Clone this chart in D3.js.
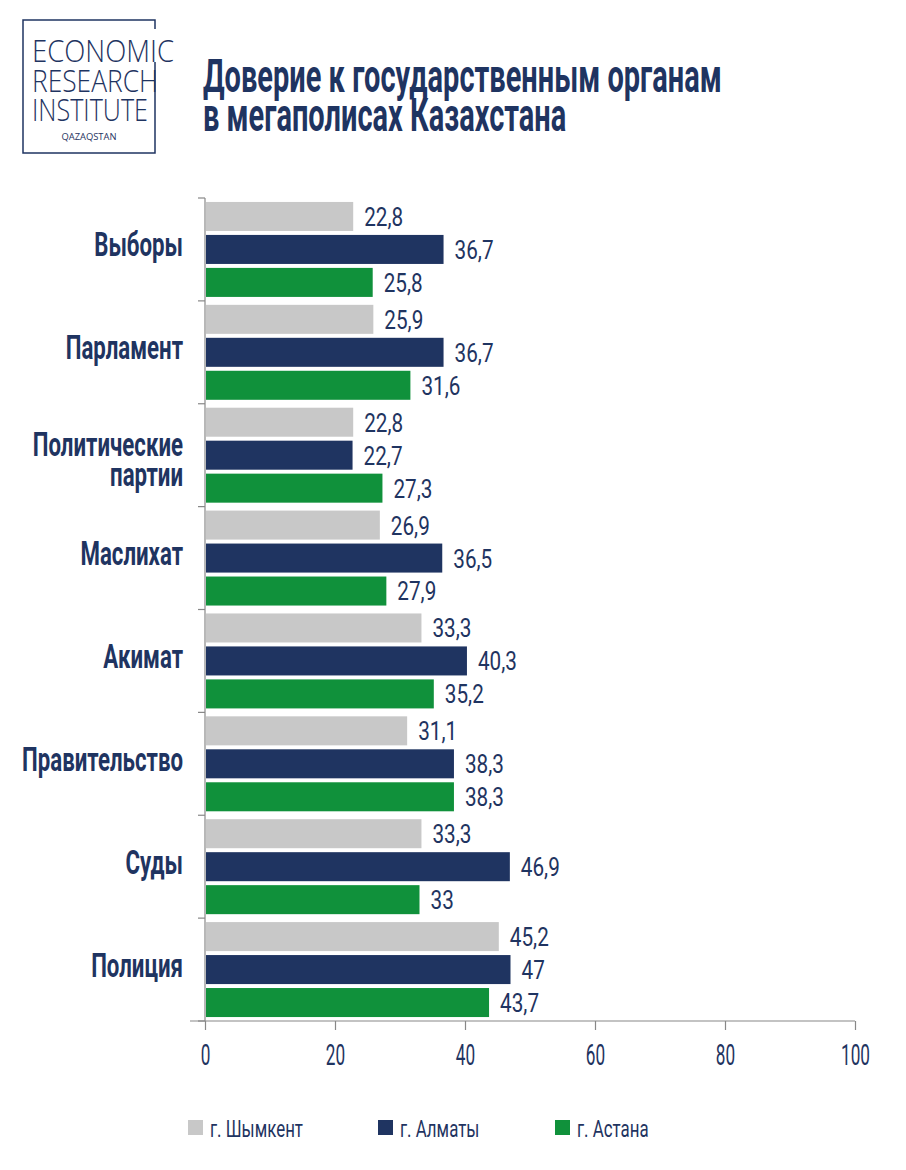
<!DOCTYPE html>
<html><head><meta charset="utf-8">
<script src="https://cdn.jsdelivr.net/npm/d3@7"></script>
<style>
html,body{margin:0;padding:0;background:#fff;}
svg text{font-family:Roboto,"Noto Sans",sans-serif;}
</style></head>
<body><svg id="c" width="906" height="1170"></svg>
<script>
const categories = ["Выборы","Парламент","Политические партии","Маслихат","Акимат","Правительство","Суды","Полиция"];
const seriesNames = ["г. Шымкент","г. Алматы","г. Астана"];
const shymkent = [22.8,25.9,22.8,26.9,33.3,31.1,33.3,45.2];
const almaty   = [36.7,36.7,22.7,36.5,40.3,38.3,46.9,47];
const astana   = [25.8,31.6,27.3,27.9,35.2,38.3,33,43.7];
const xTicks = [0,20,40,60,80,100];
const titleLines = ["Доверие к государственным органам","в мегаполисах Казахстана"];
const colors = ["#c8c8c8","#1f3461","#10913b"];
const navy = "#1f3461";

const svg = d3.select("#c");
const seriesVals = [shymkent, almaty, astana];

function factor(sample, size, weight, target){
  const t = svg.append("text").attr("font-size",size).attr("font-weight",weight).text(sample);
  const w = t.node().getComputedTextLength(); t.remove();
  return target / w;
}
function stext(parent, x, y, str, size, weight, sx, anchor, dy, sy){
  const g = parent.append("g").attr("transform",`translate(${x},${y}) scale(${sx},${sy||1})`);
  return g.append("text").attr("x",0).attr("y",0).attr("dy",dy||0)
    .attr("font-size",size).attr("font-weight",weight).attr("text-anchor",anchor||"start")
    .attr("fill",navy).text(str);
}

// logo
const logo = svg.append("g");
logo.append("path").attr("d","M155,62 L155,153 L23,153 L23,20 L155,20 L155,29")
  .attr("fill","none").attr("stroke",navy).attr("stroke-width",1.5);
const lt = [["ECONOMIC",62,142],["RESEARCH",92,126],["INSTITUTE",121,116]];
lt.forEach(([t,y,w])=>{
  logo.append("text").attr("x",32).attr("y",y).text(t)
   .style("font-family","'Open Sans',sans-serif").style("font-weight",300)
   .attr("font-size",32).attr("fill",navy)
   .attr("textLength", w).attr("lengthAdjust","spacingAndGlyphs");
});
logo.append("text").attr("x",89).attr("y",140).attr("text-anchor","middle").text("QAZAQSTAN")
  .style("font-family","'Open Sans',sans-serif").attr("font-size",9).attr("fill",navy)
  .attr("textLength",55).attr("lengthAdjust","spacingAndGlyphs");

// title
const fT = factor(titleLines[0], 38, "bold", 519);
stext(svg, 203, 92, titleLines[0], 38, "bold", fT, "start", 0, 1.24);
stext(svg, 203, 131, titleLines[1], 38, "bold", fT, "start", 0, 1.24);

const x = d3.scaleLinear().domain([0,100]).range([205,855]);
const y = d3.scaleBand().domain(categories).range([198,1021]).padding(0);
const ys = d3.scaleBand().domain(seriesNames).range([0,y.bandwidth()]).paddingInner(0.12).paddingOuter(0.12);

// y axis line and ticks
const g = svg.append("g");
g.append("line").attr("x1",205).attr("x2",205).attr("y1",198).attr("y2",1021).attr("stroke","#888").attr("stroke-width",1.2);
const bounds = categories.map(c=>y(c)).concat([y.range()[1]]);
g.selectAll(".yt").data(bounds).join("line").attr("x1",198).attr("x2",205).attr("y1",d=>d).attr("y2",d=>d).attr("stroke","#888").attr("stroke-width",1.2);

// x axis
const fX = factor("100", 28, "normal", 29);
const xa = svg.append("g").attr("transform","translate(0,1021)")
  .call(d3.axisBottom(x).tickValues(xTicks).tickSize(9).tickSizeOuter(0).tickFormat(""));
xa.select(".domain").attr("stroke","#888").attr("stroke-width",1.2).attr("d","M190,0H855");
xa.selectAll(".tick line").attr("stroke","#888").attr("stroke-width",1.2);
xa.selectAll(".tick").each(function(d){
  stext(d3.select(this), 0, 33, String(d), 28, "normal", fX, "middle", "0.36em", 1.05);
});

// bars
const fmt = v => String(v).replace(".",",");
const fV = factor("22,8", 25, "normal", 39);
const fC = factor("Правительство", 32, "bold", 161);
categories.forEach((c,i)=>{
  seriesNames.forEach((s,j)=>{
    const v = seriesVals[j][i];
    svg.append("rect").attr("x",x(0)+1).attr("y",y(c)+ys(s)).attr("width",x(v)-x(0)-1).attr("height",ys.bandwidth()).attr("fill",colors[j]);
    stext(svg, x(v)+11, y(c)+ys(s)+ys.bandwidth()/2, fmt(v), 25, "normal", fV, "start", "0.36em", 1.05);
  });
  const lines = c==="Политические партии" ? ["Политические","партии"] : [c];
  const cy = y(c)+y.bandwidth()/2;
  if(lines.length===1){
    stext(svg, 183, cy + 7, lines[0], 32, "bold", fC, "end", 0, 1.06);
  } else {
    stext(svg, 183, cy + 1, lines[0], 32, "bold", fC, "end", 0, 1.06);
    stext(svg, 183, cy + 31, lines[1], 32, "bold", fC, "end", 0, 1.06);
  }
});

// legend
const fL = factor("г. Шымкент", 23, "normal", 93);
const legX = [188,378,555];
seriesNames.forEach((s,j)=>{
  svg.append("rect").attr("x",legX[j]).attr("y",1120).attr("width",15).attr("height",15).attr("fill",colors[j]);
  stext(svg, legX[j]+22, 1128, s, 23, "normal", fL, "start", "0.36em", 1.05);
});
</script></body></html>
